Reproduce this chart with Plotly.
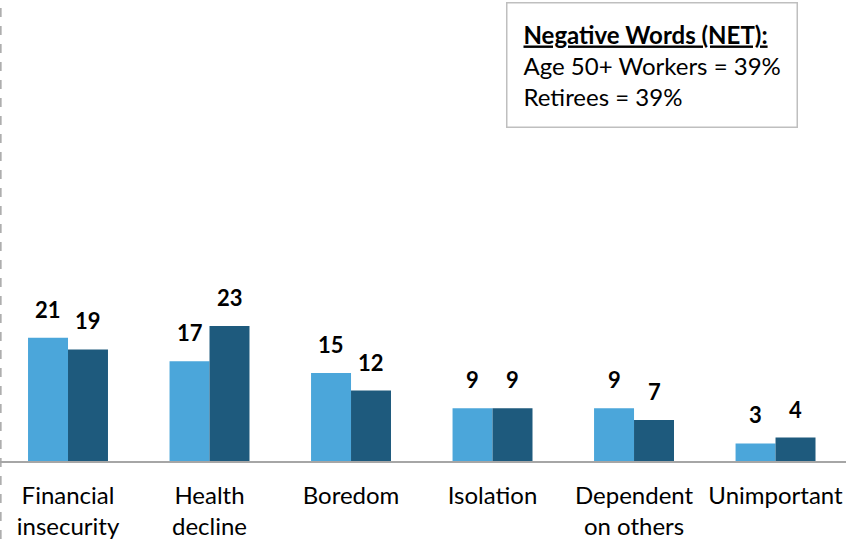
import plotly.graph_objects as go

categories = ["Financial<br>insecurity", "Health<br>decline", "Boredom", "Isolation",
              "Dependent<br>on others", "Unimportant"]
workers = [21, 17, 15, 9, 9, 3]
retirees = [19, 23, 12, 9, 7, 4]
series_names = ["Age 50+ Workers", "Retirees"]
colors = ["#4BA6DA", "#1E5A7D"]

FONT = "Lato"
W, H = 858, 539
ML, MR, MT, MB = 0, 12, 0, 78

fig = go.Figure()
for name, vals, c in zip(series_names, [workers, retirees], colors):
    fig.add_trace(go.Bar(x=categories, y=vals, name=name, marker=dict(color=c, line=dict(width=0)),
                         hoverinfo="skip"))

# value labels
for vals, shift in zip([workers, retirees], [-20, 20]):
    for cat, v in zip(categories, vals):
        fig.add_annotation(x=cat, y=v, xref="x", yref="y", text=f"<b>{v}</b>", showarrow=False,
                           xshift=shift, yshift=13, yanchor="bottom",
                           font=dict(family=FONT, size=22, color="#000000"))

fig.add_annotation(
    xref="paper", yref="paper", x=506 / (W - ML - MR), y=1 - 2 / (H - MT - MB),
    xanchor="left", yanchor="top", align="left", showarrow=False,
    text="<b><u>Negative Words (NET):</u></b><br>Age 50+ Workers = 39%<br>Retirees = 39%",
    font=dict(family=FONT, size=24, color="#000000"),
    bordercolor="#BFBFBF", borderwidth=1.5, borderpad=16, bgcolor="white")

# left dashed line
fig.add_shape(type="line", xref="paper", yref="paper", x0=0.001, x1=0.001,
              y0=-MB / (H - MT - MB), y1=1, line=dict(color="#A6A6A6", width=1.5, dash="dash"))

fig.update_layout(
    width=W, height=H, margin=dict(l=ML, r=MR, t=MT, b=MB),
    plot_bgcolor="white", paper_bgcolor="white", showlegend=False,
    barmode="group", bargap=0.435, bargroupgap=0,
    font=dict(family=FONT, size=24, color="#000000"),
    xaxis=dict(range=[-0.4806, 5.498], showline=True, linecolor="#A6A6A6", linewidth=1.5,
               ticks="outside", ticklen=12, tickcolor="rgba(0,0,0,0)", showgrid=False,
               tickfont=dict(family=FONT, size=24, color="#000000")),
    yaxis=dict(range=[0, 78.5], visible=False, showgrid=False, zeroline=False),
)

fig.write_html("out.html", config={"displayModeBar": False},
               post_script="document.body.style.margin='0';document.body.style.overflow='hidden';")
